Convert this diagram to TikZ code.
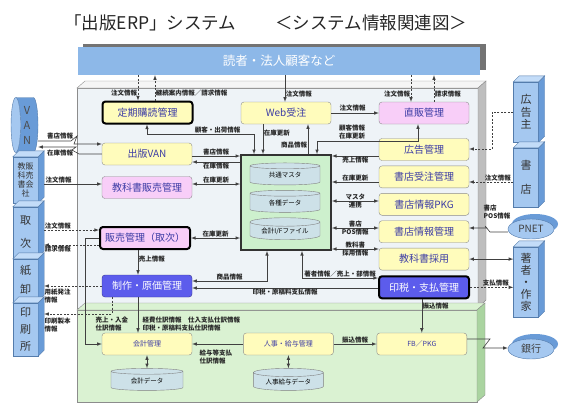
\documentclass[tikz,border=0pt]{standalone}
\usepackage{fontspec}
\setmainfont{Noto Sans CJK JP}
\usetikzlibrary{positioning,calc,shapes.geometric}
\definecolor{panelbg}{RGB}{238,243,247}
\definecolor{panelside}{RGB}{190,190,190}
\definecolor{greenbg}{RGB}{218,242,210}
\definecolor{greenside}{RGB}{170,212,160}
\definecolor{barblue}{RGB}{141,184,232}
\definecolor{entblue}{RGB}{165,200,240}
\definecolor{entdark}{RGB}{105,155,215}
\definecolor{entlight}{RGB}{195,220,248}
\definecolor{boxyellow}{RGB}{255,252,188}
\definecolor{boxpink}{RGB}{248,206,248}
\definecolor{boxblue}{RGB}{92,92,236}
\definecolor{dbgreen}{RGB}{205,240,205}
\definecolor{drumblue}{RGB}{205,225,232}
\definecolor{boxtext}{RGB}{60,60,165}
\def\faces#1{
\filldraw[fill=entdark,draw=entdark!80!black] (#1.north east) -- ++(6,-6)
      -- ([shift={(6,-6)}]#1.south east) -- (#1.south east) -- cycle;
\filldraw[fill=entlight,draw=entdark!80!black] (#1.north west) -- ++(6,-6)
      -- ([shift={(6,-6)}]#1.north east) -- (#1.north east) -- cycle;
\coordinate (#1 r) at ([xshift=6pt]#1.east);
}
\tikzset{>=latex,
  titletext/.style={font=\fontsize{17.5}{18}\selectfont,inner sep=0pt,text=black!85},
  bar/.style={fill=barblue,minimum width=402pt,minimum height=28pt,inner sep=0pt,
    text=white,font=\fontsize{12.5}{13}\selectfont},
  proc/.style={draw=black!45,rounded corners=3pt,minimum width=90pt,minimum height=22pt,
    inner sep=0pt,text=boxtext,font=\fontsize{10}{10}\selectfont},
  yproc/.style={proc,fill=boxyellow},
  pproc/.style={proc,fill=boxpink},
  bproc/.style={proc,fill=boxblue,draw=boxblue!60!black,text=white},
  key/.style={draw=black,line width=2pt},
  small/.style={font=\fontsize{7}{7}\selectfont},
  dbbox/.style={draw=black!80,line width=1.8pt,fill=dbgreen,minimum width=90pt,minimum height=95pt},
  drum/.style={cylinder,shape border rotate=90,aspect=0.18,draw=black!50,fill=drumblue,
    minimum width=70pt,minimum height=22pt,inner sep=0pt,font=\fontsize{6.5}{7}\selectfont},
  ent/.style={fill=entblue,draw=entdark!80!black,minimum width=25pt,inner sep=0pt,
    align=center,text=black!80,font=\fontsize{11}{12.5}\selectfont},
  disc/.style={ellipse,fill=entblue,draw=entdark!80!black,minimum width=46pt,minimum height=20pt,
    inner sep=0pt,text=black!75,font=\fontsize{10}{10}\selectfont},
  info/.style={font=\fontsize{6.5}{8}\selectfont\bfseries,inner sep=0.5pt,text=black!85,align=center},
  flow/.style={->,draw=black!75,line width=0.6pt},
  dflow/.style={flow,dash pattern=on 2pt off 1.5pt}
}
\begin{document}
\begin{tikzpicture}[x=1pt,y=-1pt,node distance=5pt]
\useasboundingbox (0,0) rectangle (570,413);

% title
\node[titletext,anchor=west] (title) at (64,23) {「出版ERP」システム};
\node[titletext,anchor=west] (subtitle) at (275,23) {＜システム情報関連図＞};

% readers
\fill[black!55] (83,44) rectangle (486,70);
\node[bar] (reader) at (279,61) {読者・法人顧客など};

% panels
\filldraw[fill=panelbg,draw=black!45] (77,88) rectangle (478,308);
\filldraw[fill=black!4,draw=black!45] (77,88) -- (85,81) -- (486,81) -- (478,88) -- cycle;
\filldraw[fill=panelside,draw=black!45] (478,88) -- (486,81) -- (486,300) -- (478,308) -- cycle;
\filldraw[fill=greenbg,draw=black!45] (77,310) rectangle (477,402);
\filldraw[fill=greenbg,draw=black!45] (77,310) -- (85,303) -- (485,303) -- (477,310) -- cycle;
\filldraw[fill=greenside,draw=black!45] (477,310) -- (485,303) -- (485,395) -- (477,402) -- cycle;

% processes
\node[yproc,key] (teiki) at (147.5,112.5) {定期購読管理};
\node[yproc] (web) at (286,113) {Web受注};
\node[pproc] (chokuhan) at (424,113) {直販管理};
\node[yproc] (svan) at (147,154) {出版VAN};
\node[pproc] (kyoka) at (147,187.5) {教科書販売管理};
\node[pproc,key] (hanbai) at (145,238) {販売管理（取次）};
\node[bproc] (seisaku) at (147,286) {制作・原価管理};
\node[yproc] (kokoku) at (424,149.5) {広告管理};
\node[yproc,below=of kokoku] (juchu) {書店受注管理};
\node[yproc,below=of juchu] (pkg) {書店情報PKG};
\node[yproc,below=of pkg] (jmgmt) {書店情報管理};
\node[yproc,below=of jmgmt] (saiyo) {教科書採用};
\node[bproc,key,below=of saiyo] (inzei) {印税・支払管理};

% database
\node[dbbox] (db) at (286,202.5) {};
\node[drum] (master) at (285,175.5) {共通マスタ};
\node[drum,below=of master] (data) {各種データ};
\node[drum,below=of data] (iffile) {会計I/Fファイル};

% accounting
\node[yproc,small] (kaikei) at (147,344) {会計管理};
\node[yproc,small,right=51pt of kaikei] (jinji) {人事・給与管理};
\node[yproc,small,right=43pt of jinji] (fb) {FB／PKG};
\node[drum,minimum width=72pt,below=13pt of kaikei] (kdata) {会計データ};
\node[drum,below=13pt of jinji] (jdata) {人事給与データ};

% outside parties
\node[cylinder,shape border rotate=180,aspect=0.25,cylinder uses custom fill,
  cylinder end fill=entblue,cylinder body fill=entdark,draw=entdark!80!black,
  minimum width=55pt,minimum height=27pt,inner sep=0pt,align=center,
  font=\fontsize{11}{15}\selectfont,text=black!70] (van) at (27,125) {V\\A\\N};
\node[ent,minimum height=46pt,font=\fontsize{8}{8.8}\selectfont] (kyosha) at (25.5,180) {教販\\科売\\書会\\社};
\faces{kyosha}
\node[ent,minimum height=50pt] (torihiki) at (25.5,232) {取\\[10pt]次};
\faces{torihiki}
\node[ent,minimum height=42pt] (kami) at (25.5,280) {紙\\[6pt]卸};
\faces{kami}
\node[ent,minimum height=53pt,font=\fontsize{11}{17}\selectfont] (insatsu) at (25.5,329.5) {印\\刷\\所};
\faces{insatsu}
\node[ent,minimum height=60pt] (kokokunushi) at (526,112) {広\\告\\主};
\faces{kokokunushi}
\node[ent,minimum height=59pt] (shoten) at (526,177.5) {書\\[11pt]店};
\faces{shoten}
\node[ent,minimum height=70pt,font=\fontsize{11}{12}\selectfont] (chosha) at (526,282) {著\\者\\・\\作\\家};
\faces{chosha}
\fill[entdark] (535,224) ellipse [x radius=23pt,y radius=10pt];
\node[disc] (pnet) at (531,229) {PNET};
\fill[entdark] (535,344) ellipse [x radius=23pt,y radius=10pt];
\node[disc] (ginko) at (531,349) {銀行};

% readers links
\draw[dflow] (138,0 |- reader.south) -- node[info,left,pos=.72] {注文情報} (138,0 |- teiki.north);
\draw[dflow] (155,0 |- teiki.north) -- node[info,right,pos=.28] {継続案内情報／請求情報} (155,0 |- reader.south);
\draw[flow] (285,0 |- reader.south) -- node[info,right,pos=.72] {注文情報} (285,0 |- web.north);
\draw[dflow] (411,0 |- reader.south) -- node[info,left,pos=.72] {注文情報} (411,0 |- chokuhan.north);
\draw[dflow] (434,0 |- chokuhan.north) -- node[info,right,pos=.28] {請求情報} (434,0 |- reader.south);
\draw[flow] (web) -- node[info,above=1pt,pos=.45] {注文情報} (chokuhan);

% into the database, top
\draw[flow,<->] (147,0 |- teiki.south) -- (147,134) -- node[info,above,pos=.66] {顧客・出荷情報} (254,134) -- (254,0 |- db.north);
\draw[flow] (263,0 |- web.south) -- node[info,right,pos=.3] {在庫更新} (263,0 |- db.north);
\draw[flow] (308,0 |- db.north) -- node[info,left,pos=.3] {商品情報} (308,0 |- web.south);
\draw[flow,<->] (418,0 |- chokuhan.south) -- (418,141) -- (317,141) -- (317,0 |- db.north);
\node[info] (lbl-kokyaku) at (352,132) {顧客情報\\在庫更新};

% database, left
\draw[flow] (svan.east |- 0,156) -- node[info,above] {書店情報} (db.west |- 0,156);
\draw[flow] (db.west |- 0,162) -- node[info,below] {在庫情報} (svan.east |- 0,162);
\draw[flow,<->] (kyoka.east |- 0,184) -- node[info,above] {在庫更新} (db.west |- 0,184);
\draw[flow,<->] (hanbai.east) -- node[info,above] {在庫更新} (db.west |- hanbai.east);

% database, right
\draw[flow] (kokoku.west |- 0,156) -- node[info,below] {売上情報} (db.east |- 0,156);
\draw[flow] (juchu.west |- 0,182) -- node[info,above] {在庫更新} (db.east |- 0,182);
\draw[flow,<->] (pkg.west |- 0,201) -- node[info,above] {マスタ} node[info,below] {連携} (db.east |- 0,201);
\draw[flow,<->] (jmgmt.west |- 0,228) -- node[info,above] {書店} node[info,below] {POS情報} (db.east |- 0,228);
\draw[flow,<->] (saiyo.west |- 0,249) -- node[info,above] {教科書} node[info,below] {採用情報} (db.east |- 0,249);

% database, below
\draw[flow,<->] (267,0 |- db.south) -- (267,281) -- node[info,above] {商品情報} (seisaku.east |- 0,281);
\draw[flow,<->] (302,0 |- db.south) -- (302,278) -- node[info,above] {著者情報／売上・部情報} (inzei.west |- 0,278);
\draw[flow] (inzei.west |- 0,288) -- node[info,below] {印税・原稿料支払情報} (seisaku.east |- 0,288);

% right parties
\draw[dflow] (kokokunushi.west |- 0,112) -- (492,112) -- (492,149) -- (kokoku.east |- 0,149);
\draw[dflow] (shoten.west |- 0,182) -- node[info,above,pos=.35] {注文情報} (juchu.east |- 0,182);
\draw[flow] (pnet.west |- 0,232) -- (490,232) -- (485,226) -- (487,228) -- (jmgmt.east |- 0,228);
\node[info,align=left,anchor=west] (lbl-pos) at (483,212) {書店\\POS情報};
\draw[flow,<->] (saiyo.east) -- (chosha.west |- saiyo.east);
\draw[dflow] (inzei.east) -- node[info,above,pos=.6] {支払情報} (chosha.west |- inzei.east);

% left parties
\draw[flow] (van.east |- 0,141) -- (71,141) -- (77,136) -- (74,144) -- (svan.west |- 0,144);
\node[info] (lbl-shoten) at (60,136) {書店情報};
\draw[flow] (svan.west |- 0,154) -- (79,154) -- (72,150) -- (76,147) -- (van.east |- 0,147);
\node[info] (lbl-zaiko) at (60,153) {在庫情報};
\draw[flow] (kyosha r |- 0,184) -- node[info,above,pos=.25] {注文情報} (kyoka.west |- 0,184);
\draw[dflow] (torihiki r |- 0,230) -- node[info,above,pos=.25] {注文情報} (hanbai.west |- 0,230);
\draw[dflow] (hanbai.west |- 0,245) -- node[info,below,pos=.75] {請求情報} (torihiki r |- 0,245);
\draw[dflow] (seisaku.west) -- (kami r |- seisaku.west);
\node[info,align=left,anchor=north west] (lbl-yoshi) at (44,288) {用紙発注\\情報};
\draw[dflow] (112,0 |- seisaku.south) -- (112,314) -- (insatsu r |- 0,314);
\node[info,align=left,anchor=north west] (lbl-seihon) at (44,317) {印刷製本\\情報};

% accounting links
\draw[flow] (hanbai.west) -- (85,0 |- hanbai.west) -- (85,0 |- kaikei.west) -- (kaikei.west);
\node[info,align=left,anchor=north west] (lbl-uriage) at (95,316) {売上・入金\\仕訳情報};
\draw[flow] (138,0 |- hanbai.south) -- node[info,right,pos=.35] {売上情報} (138,0 |- seisaku.north);
\draw[flow] (138,0 |- seisaku.south) -- (138,0 |- kaikei.north);
\node[info,align=left,anchor=north west] (lbl-keihi) at (142,316) {経費仕訳情報　仕入支払仕訳情報\\印税・原稿料支払仕訳情報};
\draw[flow] (jinji) -- (kaikei);
\node[info,align=left,anchor=north west] (lbl-kyuyo) at (199,349) {給与等支払\\仕訳情報};
\draw[flow,<->] (kaikei) -- (kdata);
\draw[flow,<->] (jinji) -- (jdata);
\draw[flow] (jinji) -- node[info,above] {振込情報} (fb);
\draw[flow] (fb.north |- inzei.south) -- node[info,right,pos=.2] {振込情報} (fb.north);
\draw[flow] (fb.east |- 0,339) -- (490,339) -- (483,348) -- (ginko.west |- 0,348);
\end{tikzpicture}
\end{document}
